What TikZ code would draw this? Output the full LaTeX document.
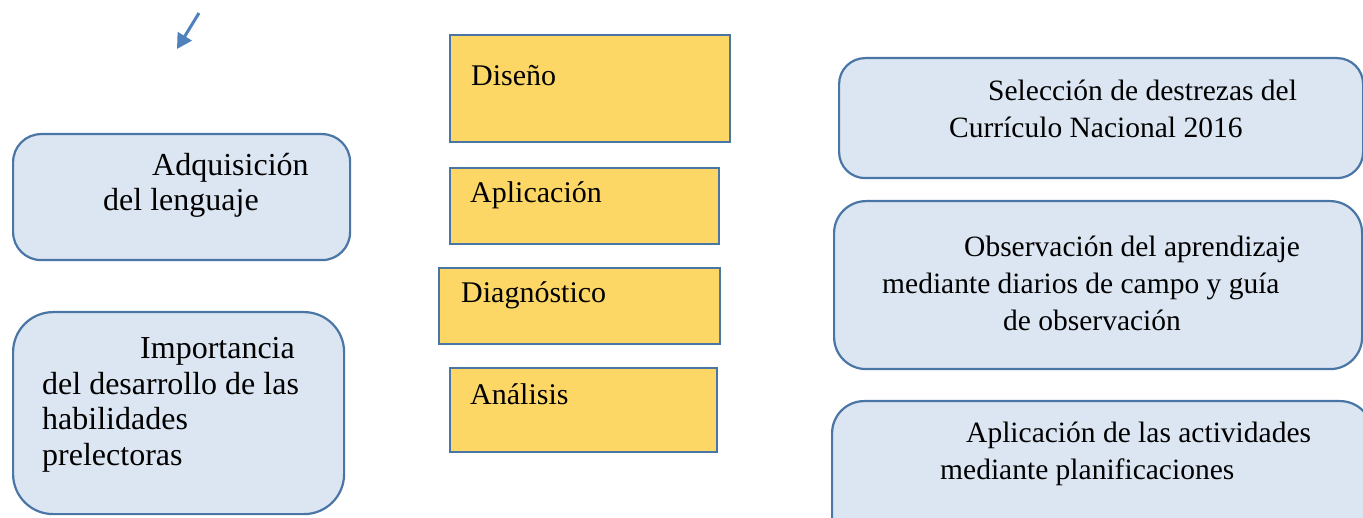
\documentclass[tikz,border=0pt]{standalone}
\usepackage{fontspec}
\setmainfont{Liberation Serif}
\usetikzlibrary{arrows.meta}
\definecolor{bdr}{HTML}{4A76A6}
\definecolor{lblue}{HTML}{DCE6F2}
\definecolor{ylw}{HTML}{FDD766}
\definecolor{arr}{HTML}{4F81BD}
\tikzset{
  bluebox/.style={draw=bdr, fill=lblue, line width=2.2pt, anchor=north west, inner sep=0pt},
  ybox/.style={draw=bdr, fill=ylw, line width=2.2pt, anchor=north west, inner sep=0pt},
  ltxt/.style={font=\fontsize{32}{35.5}\selectfont, align=left, anchor=base west, inner sep=0pt},
  rtxt/.style={font=\fontsize{29.5}{37}\selectfont, align=left, anchor=base west, inner sep=0pt},
  ytxt/.style={font=\fontsize{30}{36}\selectfont, anchor=base west, inner sep=0pt},
}
\begin{document}
\begin{tikzpicture}[x=1pt,y=-1pt]
\clip (0,0) rectangle (1363,518);
\fill[white] (0,0) rectangle (1363,518);
% left boxes
\node[bluebox, rounded corners=28pt, minimum width=337pt, minimum height=126pt] (adq) at (12,133) {};
\node[bluebox, rounded corners=40pt, minimum width=331pt, minimum height=202pt] (imp) at (12,311) {};
% yellow boxes
\node[ybox, minimum width=280pt, minimum height=107pt] (dis) at (449,34) {};
\node[ybox, minimum width=269pt, minimum height=76pt] (apl) at (449,167) {};
\node[ybox, minimum width=281pt, minimum height=76pt] (dia) at (438,267) {};
\node[ybox, minimum width=267pt, minimum height=84pt] (ana) at (449,367) {};
% right boxes
\node[bluebox, rounded corners=26pt, minimum width=524pt, minimum height=120pt] (sel) at (838,57) {};
\node[bluebox, rounded corners=32pt, minimum width=528pt, minimum height=168pt] (obs) at (833,200) {};
\node[bluebox, rounded corners=32pt, minimum width=540pt, minimum height=150pt] (act) at (831,400) {};
% texts (anchor = baseline of last line)
\node[ltxt] (tadq) at (103,211) {\hspace*{49pt}Adquisición\\del lenguaje};
\node[ltxt] (timp) at (42,465) {\hspace*{98pt}Importancia\\del desarrollo de las\\habilidades\\prelectoras};
\node[ytxt] (tdis) at (471,86) {Diseño};
\node[ytxt] (tapl) at (470,203) {Aplicación};
\node[ytxt] (tdia) at (461,303) {Diagnóstico};
\node[ytxt] (tana) at (470,405) {Análisis};
\node[rtxt] (tsel) at (949,138) {\hspace*{39pt}Selección de destrezas del\\Currículo Nacional 2016};
\node[rtxt] (tobs) at (882,331) {\hspace*{82pt}Observación del aprendizaje\\mediante diarios de campo y guía\\\hspace*{121pt}de observación};
\node[rtxt] (tact) at (940,479) {\hspace*{26pt}Aplicación de las actividades\\mediante planificaciones};
% arrow
\coordinate (a0) at (199,13);
\coordinate (a1) at (177,49);
\draw[arr, line width=3pt, -{Triangle[length=15pt,width=16pt]}] (a0) -- (a1);
\end{tikzpicture}
\end{document}
